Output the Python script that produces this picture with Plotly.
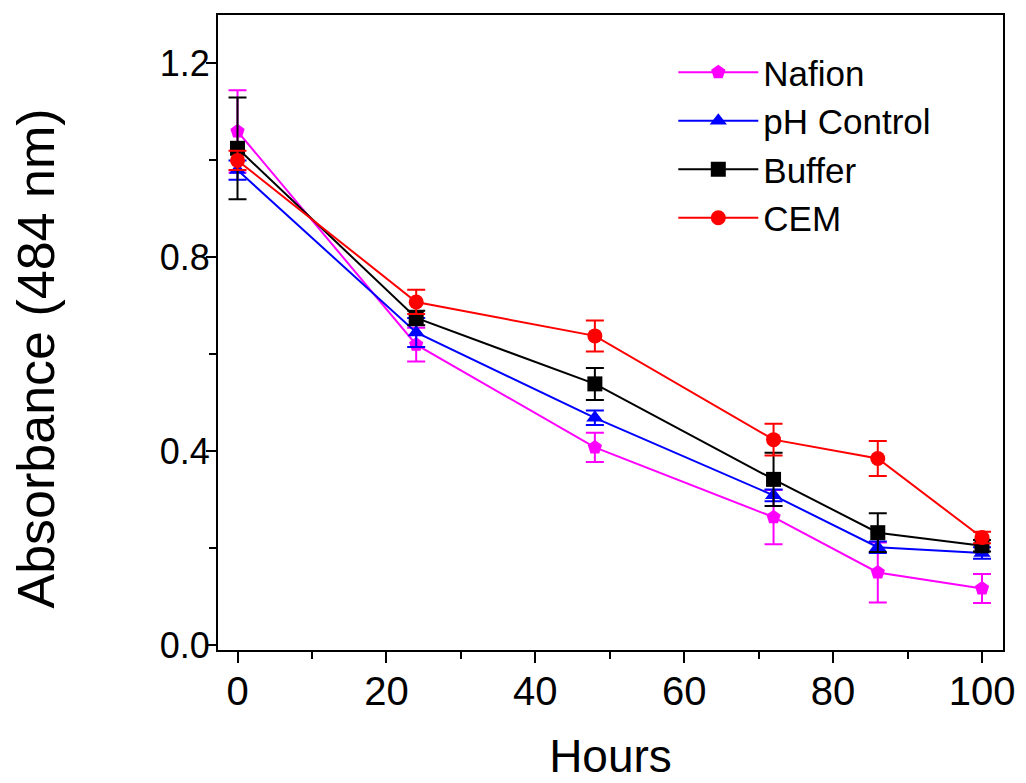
import plotly.graph_objects as go

hours = [0, 24, 48, 72, 86, 100]

nafion = [1.06, 0.62, 0.408, 0.264, 0.150, 0.117]
nafion_err = [0.085, 0.035, 0.030, 0.056, 0.062, 0.030]

ph_control = [0.98, 0.645, 0.469, 0.309, 0.202, 0.190]
ph_err = [0.020, 0.030, 0.015, 0.012, 0.012, 0.012]

buffer_ = [1.025, 0.675, 0.539, 0.342, 0.232, 0.205]
buffer_err = [0.105, 0.015, 0.033, 0.055, 0.040, 0.012]

cem = [1.00, 0.708, 0.638, 0.424, 0.385, 0.222]
cem_err = [0.020, 0.025, 0.032, 0.033, 0.036, 0.012]

series = [
    ("Nafion", nafion, nafion_err, "#FF00FF", "pentagon"),
    ("pH Control", ph_control, ph_err, "#0000FF", "triangle-up"),
    ("Buffer", buffer_, buffer_err, "#000000", "square"),
    ("CEM", cem, cem_err, "#FF0000", "circle"),
]

fig = go.Figure()
for name, vals, errs, color, sym in series:
    fig.add_trace(go.Scatter(
        x=hours, y=vals, name=name, mode="lines+markers",
        line=dict(color=color, width=2),
        marker=dict(symbol=sym, size=15, color=color),
        error_y=dict(type="data", array=errs, visible=True, color=color,
                     thickness=2, width=9),
    ))

font_family = "Liberation Sans, Arial, sans-serif"

fig.add_annotation(
    text="Absorbance (484 nm)", textangle=-90,
    xref="paper", yref="paper", x=0, y=0.5, xanchor="center", yanchor="middle",
    xshift=-183, yshift=-26, showarrow=False,
    font=dict(size=52, family=font_family, color="black"),
)

fig.update_layout(
    width=1018, height=775,
    paper_bgcolor="white", plot_bgcolor="white",
    margin=dict(l=210, r=23, t=7, b=133),
    font=dict(family=font_family, color="black"),
    showlegend=True,
    legend=dict(
        x=0.58, y=0.956, xanchor="left", yanchor="top",
        font=dict(size=35, family=font_family),
        bgcolor="rgba(0,0,0,0)", borderwidth=0,
        itemwidth=80, tracegroupgap=0,
    ),
    xaxis=dict(
        range=[-2.62, 102.82], automargin=False,
        tickmode="array", tickvals=[0, 20, 40, 60, 80, 100],
        ticks="outside", ticklen=11, tickwidth=2, tickcolor="black",
        ticklabelstandoff=-6,
        minor=dict(tickvals=[10, 30, 50, 70, 90], ticks="outside", ticklen=7, tickwidth=2, tickcolor="black"),
        showline=True, linewidth=2, linecolor="black", mirror=True,
        showgrid=False, zeroline=False,
        tickfont=dict(size=40, family=font_family),
        title=dict(text="Hours", font=dict(size=46, family=font_family), standoff=28),
    ),
    yaxis=dict(
        range=[-0.01, 1.3], automargin=False,
        tickmode="array", tickvals=[0.0, 0.4, 0.8, 1.2],
        ticktext=["0.0", "0.4", "0.8", "1.2"],
        ticks="outside", ticklen=10, tickwidth=2, tickcolor="black",
        ticklabelstandoff=-11,
        minor=dict(tickvals=[0.2, 0.6, 1.0], ticks="outside", ticklen=7, tickwidth=2, tickcolor="black"),
        showline=True, linewidth=2, linecolor="black", mirror=True,
        showgrid=False, zeroline=False,
        tickfont=dict(size=36, family=font_family),
    ),
)

fig.write_html("out.html")
